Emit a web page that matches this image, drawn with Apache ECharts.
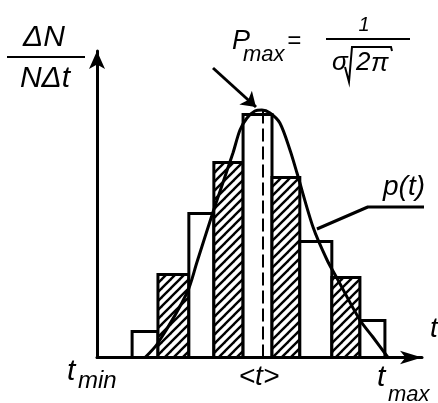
<!DOCTYPE html>
<html>
<head>
<meta charset="utf-8">
<script src="https://cdn.jsdelivr.net/npm/echarts@6/dist/echarts.min.js"></script>
<style>
html,body{margin:0;padding:0;background:#fff;}
#chart{width:438px;height:403px;}
</style>
</head>
<body>
<div id="chart"></div>
<script>
// Histogram bins (t units), heights (ΔN/NΔt units), hatched flag
const binEdges = [1.25, 2.17, 3.27, 4.16, 5.20, 6.23, 7.22, 8.36, 9.36, 10.25];
const binHeights = [2.6, 8.3, 14.4, 19.5, 24.3, 18.0, 11.6, 8.0, 3.7];
const binHatched = [0, 1, 0, 1, 0, 1, 0, 1, 0];
// Density curve p(t)
const curveT = [1.71, 2.17, 3.20, 3.56, 4.13, 4.84, 5.09, 5.34, 5.62, 5.87, 6.16, 6.51, 6.87, 7.12, 7.69, 8.19, 8.54, 9.36, 9.82, 10.36];
const curveP = [0, 1.45, 6.45, 9.55, 14.55, 20.45, 22.75, 23.95, 24.65, 24.75, 24.45, 23.45, 20.75, 18.45, 13.05, 9.75, 7.95, 3.75, 2.05, 0];
// mean <t> and its height
const meanT = 5.91;
const meanTop = 24.75;
// arrow pointing to Pmax
const arrowFrom = [4.13, 28.95];
const arrowTo = [5.66, 25.05];
// leader line for p(t)
const leaderT = [7.83, 9.64, 12.14];
const leaderP = [12.85, 15.05, 15.05];

const xMax = 11.57, yMax = 30.65;

const pc = document.createElement('canvas');
pc.width = 9; pc.height = 9;
const g = pc.getContext('2d');
g.fillStyle = '#fff'; g.fillRect(0, 0, 9, 9);
g.strokeStyle = '#000'; g.lineWidth = 2.4;
[[0, 9, 9, 0], [-4.5, 4.5, 4.5, -4.5], [4.5, 13.5, 13.5, 4.5]].forEach(function (l) {
  g.beginPath(); g.moveTo(l[0], l[1]); g.lineTo(l[2], l[3]); g.stroke();
});
const hatch = { image: pc, repeat: 'repeat' };

const barData = binHeights.map(function (h, i) {
  return [binEdges[i], binEdges[i + 1], h, binHatched[i]];
});

const F = '"Liberation Sans", Arial, sans-serif';
function txt(text, x, y, size, align) {
  return {
    type: 'text', x: x, y: y, z: 100,
    style: { text: text, font: 'italic ' + size + 'px ' + F, fill: '#000', textAlign: align || 'left', textVerticalAlign: 'middle' }
  };
}

const chart = echarts.init(document.getElementById('chart'), null, { renderer: 'canvas' });
chart.setOption({
  animation: false,
  backgroundColor: '#fff',
  grid: { left: 97, right: 16, top: 51, bottom: 45.5 },
  xAxis: {
    type: 'value', min: 0, max: xMax,
    axisLine: { show: true, onZero: false, symbol: ['none', 'arrow'], symbolSize: [10, 22], lineStyle: { color: '#000', width: 3 } },
    axisTick: { show: false }, axisLabel: { show: false }, splitLine: { show: false }
  },
  yAxis: {
    type: 'value', min: 0, max: yMax,
    axisLine: { show: true, onZero: false, symbol: ['none', 'arrow'], symbolSize: [12, 18], lineStyle: { color: '#000', width: 3 } },
    axisTick: { show: false }, axisLabel: { show: false }, splitLine: { show: false }
  },
  series: [
    {
      type: 'custom', z: 2,
      data: barData,
      renderItem: function (params, api) {
        const p0 = api.coord([api.value(0), 0]);
        const p1 = api.coord([api.value(1), api.value(2)]);
        return {
          type: 'rect',
          shape: { x: p0[0], y: p1[1], width: p1[0] - p0[0], height: p0[1] - p1[1] },
          style: { fill: api.value(3) ? hatch : '#fff', stroke: '#000', lineWidth: 3 }
        };
      }
    },
    {
      type: 'line', z: 3, symbol: 'none', silent: true,
      data: [[meanT, 0], [meanT, meanTop]],
      lineStyle: { color: '#000', width: 2, type: [13, 5] }
    },
    {
      type: 'line', z: 4, symbol: 'none', smooth: 0.3, silent: true,
      data: curveT.map(function (t, i) { return [t, curveP[i]]; }),
      lineStyle: { color: '#000', width: 3 }
    },
    {
      type: 'line', z: 4, symbol: 'none', clip: false, silent: true,
      data: leaderT.map(function (t, i) { return [t, leaderP[i]]; }),
      lineStyle: { color: '#000', width: 3 }
    },
    {
      type: 'lines', coordinateSystem: 'cartesian2d', z: 5, silent: true,
      symbol: ['none', 'arrow'], symbolSize: 14,
      data: [{ coords: [arrowFrom, arrowTo] }],
      lineStyle: { color: '#000', width: 3, opacity: 1 }
    }
  ],
  graphic: [
    txt('ΔN', 44, 38, 30, 'center'),
    { type: 'line', shape: { x1: 7, y1: 57, x2: 85, y2: 57 }, style: { stroke: '#000', lineWidth: 2 } },
    txt('NΔt', 45, 79, 30, 'center'),
    txt('P', 232, 41, 27),
    txt('max', 243, 55, 22),
    txt('=', 287, 41, 24),
    txt('1', 364, 25, 20, 'center'),
    { type: 'line', shape: { x1: 326, y1: 39, x2: 410, y2: 39 }, style: { stroke: '#000', lineWidth: 2 } },
    txt('σ', 332, 63, 26),
    { type: 'polyline', shape: { points: [[345, 67], [349, 82], [352, 47], [391, 47], [392, 51]] }, style: { stroke: '#000', lineWidth: 2, fill: null } },
    txt('2', 356, 63, 26),
    txt('π', 371, 64, 26),
    txt('p(t)', 404, 187, 28, 'center'),
    txt('t', 430, 329, 28),
    txt('t', 67, 372, 30),
    txt('min', 78, 381, 24),
    txt('<t>', 259, 377, 28, 'center'),
    txt('t', 377, 378, 30),
    txt('max', 388, 395, 22)
  ]
});
</script>
</body>
</html>
